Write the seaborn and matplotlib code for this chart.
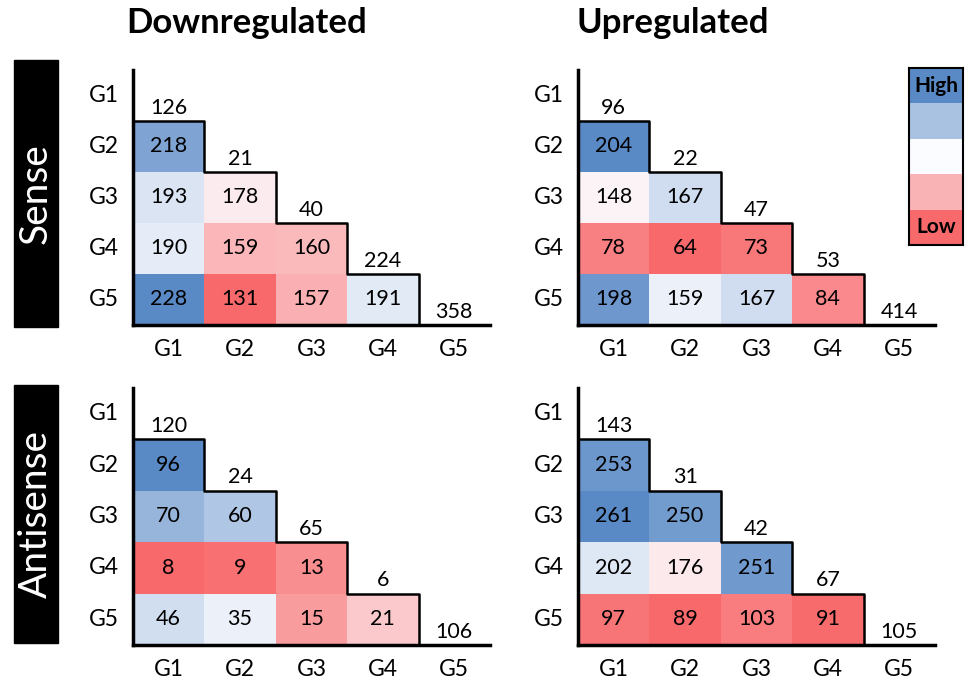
import numpy as np
import pandas as pd
import matplotlib
matplotlib.use("Agg")
import matplotlib.pyplot as plt
import seaborn as sns
from matplotlib.colors import LinearSegmentedColormap, TwoSlopeNorm
from matplotlib.patches import Rectangle

# ---- data ----
groups = ["G1", "G2", "G3", "G4", "G5"]

down_sense_diag = [126, 21, 40, 224, 358]
down_sense_low = [[218], [193, 178], [190, 159, 160], [228, 131, 157, 191]]

up_sense_diag = [96, 22, 47, 53, 414]
up_sense_low = [[204], [148, 167], [78, 64, 73], [198, 159, 167, 84]]

down_anti_diag = [120, 24, 65, 6, 106]
down_anti_low = [[96], [70, 60], [8, 9, 13], [46, 35, 15, 21]]

up_anti_diag = [143, 31, 42, 67, 105]
up_anti_low = [[253], [261, 250], [202, 176, 251], [97, 89, 103, 91]]

col_titles = ["Downregulated", "Upregulated"]
row_titles = ["Sense", "Antisense"]

# excel-like 3 colour scale
cmap = LinearSegmentedColormap.from_list("xl", ["#F8696B", "#FCFCFF", "#5A8AC6"])

sns.set_style("white")
plt.rcParams['font.family'] = ['Lato', 'DejaVu Sans']
plt.rcParams['text.color'] = 'black'
plt.rcParams['xtick.color'] = 'black'
plt.rcParams['ytick.color'] = 'black'
plt.rcParams['axes.labelcolor'] = 'black'

NUM_FS = 15.5


def make_df(diag, low):
    m = np.full((5, 5), np.nan)
    for i in range(5):
        m[i, i] = diag[i]
    for r, row in enumerate(low):
        for c, v in enumerate(row):
            m[r + 1, c] = v
    return pd.DataFrame(m, index=groups, columns=groups)


def draw_panel(ax, diag, low):
    df = make_df(diag, low)
    vals = np.concatenate([np.array(r, float) for r in low])
    norm = TwoSlopeNorm(vmin=vals.min(), vcenter=np.median(vals), vmax=vals.max())
    mask = np.triu(np.ones((5, 5), bool))
    sns.heatmap(df, mask=mask, cmap=cmap, norm=norm, annot=True, fmt=".0f",
                annot_kws={"fontsize": NUM_FS, "color": "black"}, cbar=False, ax=ax)
    # diagonal numbers sit just above the step line
    for i in range(5):
        ax.text(i + 0.5, i + 0.74, str(diag[i]), ha="center", va="center",
                fontsize=NUM_FS, color="black")
    # staircase outline
    xs, ys = [0], [1]
    for i in range(1, 5):
        xs += [i, i]
        ys += [i, i + 1]
    ax.plot(xs, ys, color="black", lw=1.8, clip_on=False)
    ax.set_xlim(0, 5)
    ax.set_ylim(5, 0)
    for s in ["left", "bottom"]:
        ax.spines[s].set_visible(True)
        ax.spines[s].set_color("black")
        ax.spines[s].set_linewidth(2.5)
    ax.tick_params(length=0, labelsize=16.5, pad=10, colors="black")
    ax.set_xlabel("")
    ax.set_ylabel("")
    plt.setp(ax.get_yticklabels(), rotation=0)


fig = plt.figure(figsize=(9.7, 6.81), dpi=100)

panels = [
    ([0.1371, 0.5228, 0.368, 0.3745], down_sense_diag, down_sense_low),
    ([0.5959, 0.5228, 0.368, 0.3745], up_sense_diag, up_sense_low),
    ([0.1371, 0.0529, 0.368, 0.3774], down_anti_diag, down_anti_low),
    ([0.5959, 0.0529, 0.368, 0.3774], up_anti_diag, up_anti_low),
]
for rect, d, l in panels:
    ax = fig.add_axes(rect)
    draw_panel(ax, d, l)

# column titles
fig.text(247 / 970, 1 - 23 / 681, col_titles[0], ha="center", va="center",
         fontsize=25, fontweight="bold", color="black")
fig.text(673 / 970, 1 - 23 / 681, col_titles[1], ha="center", va="center",
         fontsize=25, fontweight="bold", color="black")

# row labels in black boxes
for (y0, y1), name in zip([(60, 327), (385, 643)], row_titles):
    fig.patches.append(Rectangle((14 / 970, 1 - y1 / 681), 44 / 970, (y1 - y0) / 681,
                                 transform=fig.transFigure, color="black"))
    fig.text(36 / 970, 1 - (y0 + y1) / 2 / 681, name, rotation=90, ha="center",
             va="center", color="white", fontsize=28)

# legend strip
lax = fig.add_axes([909 / 970, 1 - 245 / 681, 54 / 970, 177 / 681])
leg = pd.DataFrame({"v": [1.0, 0.75, 0.5, 0.25, 0.0]})
sns.heatmap(leg, cmap=cmap, vmin=0, vmax=1, cbar=False, ax=lax,
            xticklabels=False, yticklabels=False)
lax.text(0.5, 0.5, "High", ha="center", va="center", fontsize=15, fontweight="bold")
lax.text(0.5, 4.5, "Low", ha="center", va="center", fontsize=15, fontweight="bold")
for s in lax.spines.values():
    s.set_visible(True)
    s.set_color("black")
    s.set_linewidth(1.5)

fig.savefig("out.png", dpi=100)
